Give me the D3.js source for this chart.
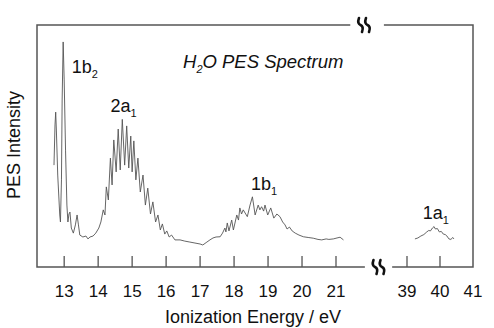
<!DOCTYPE html>
<html>
<head>
<meta charset="utf-8">
<script src="https://cdn.jsdelivr.net/npm/d3@7"></script>
<style>
  body { margin: 0; background: #fff; }
  text { font-family: "Liberation Sans", Arial, sans-serif; fill: #111; }
</style>
</head>
<body>
<svg id="chart" width="494" height="328"></svg>
<script>
'use strict'

// valence bands (12 - 22 eV)
const energyLow = [12.70, 12.73, 12.75, 12.77, 12.81, 12.87, 12.89, 12.92, 12.94, 12.97, 13.00, 13.04, 13.08, 13.11, 13.14, 13.17, 13.21, 13.27, 13.33, 13.38, 13.42, 13.46, 13.55, 13.64, 13.70, 13.76, 13.85, 13.93, 14.02, 14.08,
  14.15, 14.20, 14.24, 14.30, 14.36, 14.41, 14.46, 14.53, 14.59, 14.65, 14.71, 14.78, 14.84, 14.90, 14.96, 15.00, 15.05, 15.11, 15.17, 15.24, 15.32, 15.39, 15.46, 15.54, 15.61, 15.69, 15.76, 15.83, 15.89, 15.96, 16.02, 16.09, 16.16,
  16.26, 16.41, 16.55, 16.70, 16.85, 17.00, 17.08, 17.20, 17.29, 17.38, 17.47, 17.59, 17.66, 17.73, 17.76, 17.80, 17.85, 17.93, 17.98, 18.08, 18.13, 18.17, 18.22, 18.27, 18.39, 18.47, 18.54, 18.62, 18.71, 18.76, 18.81, 18.87, 18.91, 18.99,
  19.08, 19.17, 19.26, 19.35, 19.43, 19.50, 19.56, 19.63, 19.71, 19.80, 19.91, 20.04, 20.18, 20.33, 20.47, 20.58, 20.71, 20.79, 20.92, 21.03, 21.12, 21.22]
const intensityLow = [42.1, 58.7, 64.0, 56.6, 38.0, 21.5, 18.6, 36.0, 69.0, 93.0, 77.3, 48.3, 25.6, 18.6, 21.9, 22.7, 16.1, 14.0, 17.4, 21.5, 17.4, 13.2, 12.4, 12.8, 11.6, 12.4, 12.8, 14.0, 16.1, 18.6,
  23.6, 21.5, 33.1, 27.7, 45.0, 33.9, 52.5, 39.3, 57.0, 40.1, 61.0, 42.1, 58.3, 40.9, 54.1, 39.3, 52.1, 36.0, 45.0, 31.0, 38.0, 25.6, 32.6, 21.9, 26.9, 18.6, 21.5, 15.3, 17.8, 13.6, 14.9, 12.4, 13.2,
  11.2, 11.2, 10.7, 10.3, 9.9, 9.5, 9.1, 10.3, 11.2, 12.0, 12.4, 12.5, 14.0, 16.1, 14.5, 18.2, 14.9, 19.4, 15.3, 21.5, 19.4, 24.4, 21.9, 23.6, 20.8, 25.6, 29.0, 21.5, 25.6, 23.6, 24.9, 23.1, 25.6, 21.5,
  24.4, 20.2, 21.9, 20.8, 18.6, 17.4, 15.7, 16.5, 14.9, 14.0, 13.2, 12.5, 12.2, 11.9, 11.4, 11.2, 11.6, 11.4, 11.6, 12.0, 12.3, 11.2]

// inner valence band 1a1 (39 - 41 eV)
const energyHigh = [39.24, 39.33, 39.42, 39.51, 39.60, 39.66, 39.71, 39.77, 39.82, 39.86, 39.92, 39.98, 40.04, 40.10, 40.16, 40.21, 40.27, 40.33, 40.39, 40.42]
const intensityHigh = [11.6, 12.0, 12.8, 13.4, 14.5, 15.1, 14.9, 16.1, 16.7, 15.7, 15.9, 14.5, 14.7, 13.6, 13.4, 12.8, 11.6, 11.4, 12.2, 11.6]

const ticksLow = [13, 14, 15, 16, 17, 18, 19, 20, 21]
const ticksHigh = [39, 40, 41]

// band labels: main text, subscript, energy, intensity
const bandNames = ['1b', '2a', '1b', '1a']
const bandSubs = ['2', '1', '1', '1']
const bandEnergy = [13.22, 14.36, 18.50, 39.48]
const bandHeight = [80, 64, 32, 20]

const svg = d3.select('#chart')
const plotTop = 25, plotBottom = 267, plotLeft = 37

const xLow = d3.scaleLinear().domain([12.2, 21]).range([plotLeft, 336])
const xHigh = d3.scaleLinear().domain([39, 41]).range([407, 473])
const y = d3.scaleLinear().domain([0, 100]).range([plotBottom, plotTop])

const frame = svg.append('g')
  .attr('fill', 'none')
  .attr('stroke', '#555')
  .attr('stroke-width', 1.5)

// frame pieces, broken between 21.9 and 38.5 eV
frame.append('path')
  .attr('d', `M${xLow(21.42)},${plotTop}H${plotLeft}V${plotBottom}H${xLow(21.85)}`)
frame.append('path')
  .attr('d', `M${xHigh(38.3)},${plotTop}H${xHigh(41)}V${plotBottom}H${xHigh(38.55)}`)

// axis break marks
function squiggle(cx, cy) {
  return `M${cx - 1.5},${cy - 7}Q${cx - 3.5},${cy - 1.5} ${cx},${cy}Q${cx + 3.5},${cy + 1.5} ${cx + 1.5},${cy + 7}`
}
const breaks = svg.append('g')
  .attr('fill', 'none')
  .attr('stroke', '#111')
  .attr('stroke-width', 2.6)
  .attr('stroke-linecap', 'round')
;[[360.5, plotTop], [367.5, plotTop], [375, plotBottom], [382, plotBottom]].forEach(p => {
  breaks.append('path').attr('d', squiggle(p[0], p[1]))
})

// ticks (inward)
const tickG = svg.append('g').attr('stroke', '#555').attr('stroke-width', 1.3)
ticksLow.forEach(t => {
  tickG.append('line').attr('x1', xLow(t)).attr('x2', xLow(t)).attr('y1', plotBottom).attr('y2', plotBottom - 11)
})
ticksHigh.slice(0, 2).forEach(t => {
  tickG.append('line').attr('x1', xHigh(t)).attr('x2', xHigh(t)).attr('y1', plotBottom).attr('y2', plotBottom - 11)
})

const labelG = svg.append('g').attr('font-size', 17).attr('text-anchor', 'middle')
ticksLow.forEach(t => labelG.append('text').attr('x', xLow(t)).attr('y', 297).text(t))
ticksHigh.forEach(t => labelG.append('text').attr('x', xHigh(t)).attr('y', 297).text(t))

// spectrum
const lowData = energyLow.map((e, i) => ({ e: e, v: intensityLow[i] }))
const highData = energyHigh.map((e, i) => ({ e: e, v: intensityHigh[i] }))

svg.append('path')
  .datum(lowData)
  .attr('fill', 'none')
  .attr('stroke', '#555')
  .attr('stroke-width', 0.9)
  .attr('stroke-linejoin', 'round')
  .attr('d', d3.line().x(d => xLow(d.e)).y(d => y(d.v)))

svg.append('path')
  .datum(highData)
  .attr('fill', 'none')
  .attr('stroke', '#555')
  .attr('stroke-width', 0.9)
  .attr('stroke-linejoin', 'round')
  .attr('d', d3.line().x(d => xHigh(d.e)).y(d => y(d.v)))

// band labels
bandNames.forEach((n, i) => {
  const x = bandEnergy[i] < 30 ? xLow(bandEnergy[i]) : xHigh(bandEnergy[i])
  const t = svg.append('text')
    .attr('x', x)
    .attr('y', y(bandHeight[i]))
    .attr('font-size', 18)
  t.append('tspan').text(n)
  t.append('tspan').attr('dy', 5).attr('font-size', 11).text(bandSubs[i])
})

// title
const title = svg.append('text')
  .attr('x', 183)
  .attr('y', 68)
  .attr('font-size', 18.5)
  .attr('font-style', 'italic')
title.append('tspan').text('H')
title.append('tspan').attr('dy', 5).attr('font-size', 11).text('2')
title.append('tspan').attr('dy', -5).text('O PES Spectrum')

// axis titles
svg.append('text')
  .attr('x', 253)
  .attr('y', 323)
  .attr('font-size', 18)
  .attr('text-anchor', 'middle')
  .text('Ionization Energy / eV')

svg.append('text')
  .attr('transform', 'translate(20,145) rotate(-90)')
  .attr('font-size', 18)
  .attr('text-anchor', 'middle')
  .text('PES Intensity')
</script>
</body>
</html>
